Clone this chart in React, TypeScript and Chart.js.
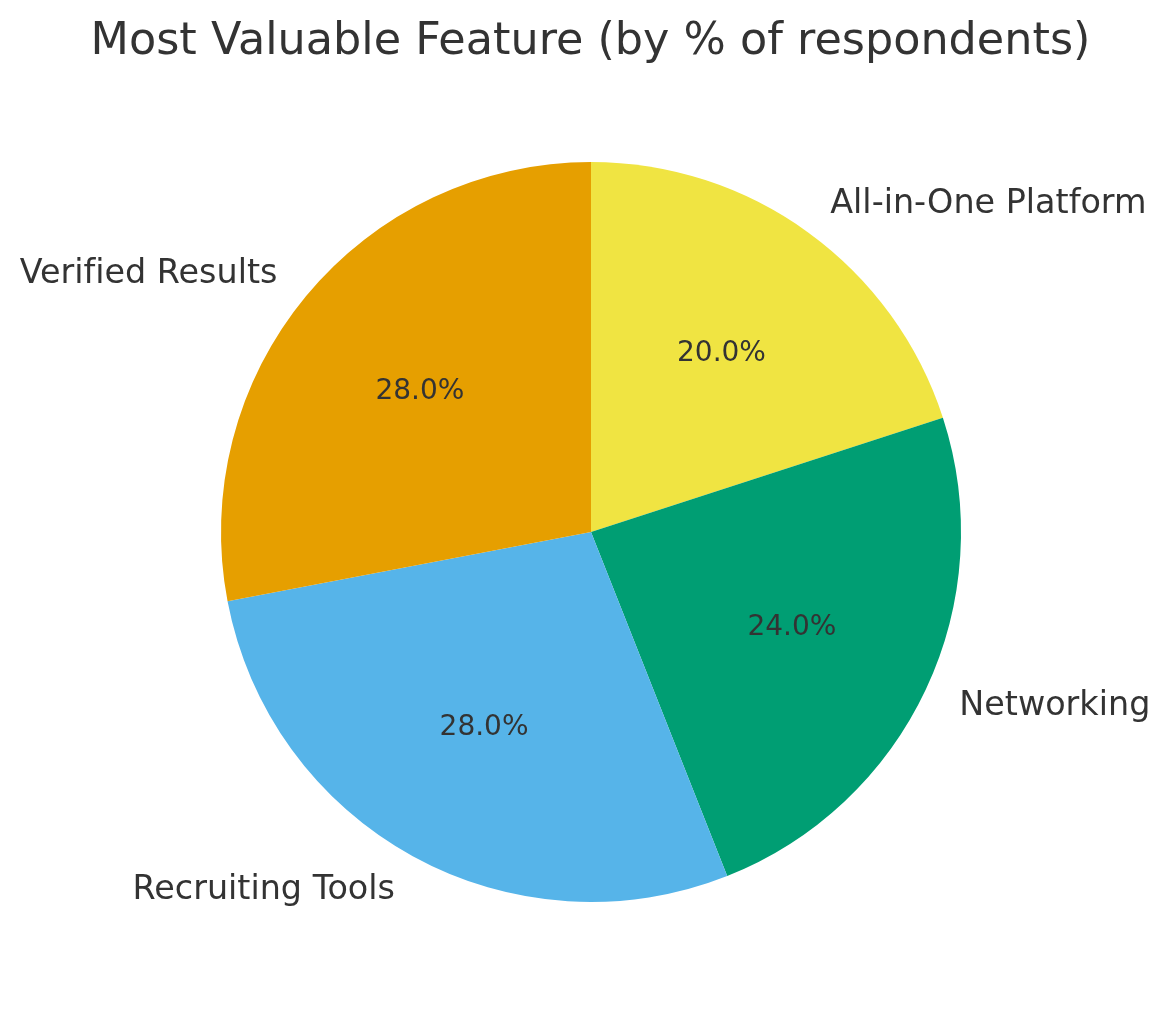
import React, { useEffect, useRef } from "react";
import { Chart, registerables } from "chart.js";

Chart.register(...registerables);

// Clockwise from the top (matches the counter-clockwise order of the original)
const categories = ["All-in-One Platform", "Networking", "Recruiting Tools", "Verified Results"];
const shares = [20, 24, 28, 28];
const sliceColors = ["#F0E442", "#009E73", "#56B4E9", "#E69F00"];
const titleText = "Most Valuable Feature (by % of respondents)";

const FONT = "'DejaVu Sans', 'Liberation Sans', sans-serif";
const TEXT_COLOR = "#333333";

const labelPlugin = {
  id: "pieLabels",
  afterDraw(chart: any) {
    const ctx = chart.ctx;
    const meta = chart.getDatasetMeta(0);
    const data = chart.data.datasets[0].data as number[];
    const total = data.reduce((a, b) => a + b, 0);
    ctx.save();
    ctx.fillStyle = TEXT_COLOR;
    try {
      (ctx as any).letterSpacing = "0.001px";
    } catch (e) {}
    meta.data.forEach((arc: any, i: number) => {
      const { x, y, startAngle, endAngle, outerRadius } = arc.getProps(
        ["x", "y", "startAngle", "endAngle", "outerRadius"],
        true
      );
      const mid = (startAngle + endAngle) / 2;
      const c = Math.cos(mid);
      const s = Math.sin(mid);
      // outside category label
      ctx.font = `33.4px ${FONT}`;
      ctx.textBaseline = "middle";
      ctx.textAlign = c > 0 ? "left" : "right";
      ctx.fillText(chart.data.labels[i], x + 1.1 * outerRadius * c, y + 1.1 * outerRadius * s + 1.5);
      // percentage
      ctx.font = `28px ${FONT}`;
      ctx.textAlign = "center";
      const pct = ((data[i] / total) * 100).toFixed(1) + "%";
      ctx.fillText(pct, x + 0.6 * outerRadius * c, y + 0.6 * outerRadius * s + 1);
    });
    // title
    const cx = (chart.chartArea.left + chart.chartArea.right) / 2;
    ctx.font = `44.5px ${FONT}`;
    ctx.textAlign = "center";
    ctx.textBaseline = "alphabetic";
    ctx.fillText(titleText, cx - 0.5, 54);
    ctx.restore();
  },
};

export default function App() {
  const ref = useRef<HTMLCanvasElement | null>(null);
  useEffect(() => {
    document.body.style.margin = "0";
    document.body.style.background = "#ffffff";
    if (!ref.current) return;
    const chart = new Chart(ref.current, {
      type: "pie",
      data: {
        labels: categories,
        datasets: [
          {
            data: shares,
            backgroundColor: sliceColors,
            borderWidth: 0,
            hoverOffset: 0,
            offset: 0,
          },
        ],
      },
      options: {
        responsive: false,
        animation: false,
        events: [],
        layout: { padding: { left: 221, right: 208, top: 162, bottom: 112 } },
        plugins: {
          legend: { display: false },
          title: { display: false },
          tooltip: { enabled: false },
        },
      },
      plugins: [labelPlugin],
    });
    return () => chart.destroy();
  }, []);
  return (
    <div style={{ width: 1169, height: 1014, background: "#fff" }}>
      <canvas ref={ref} width={1169} height={1014} />
    </div>
  );
}
